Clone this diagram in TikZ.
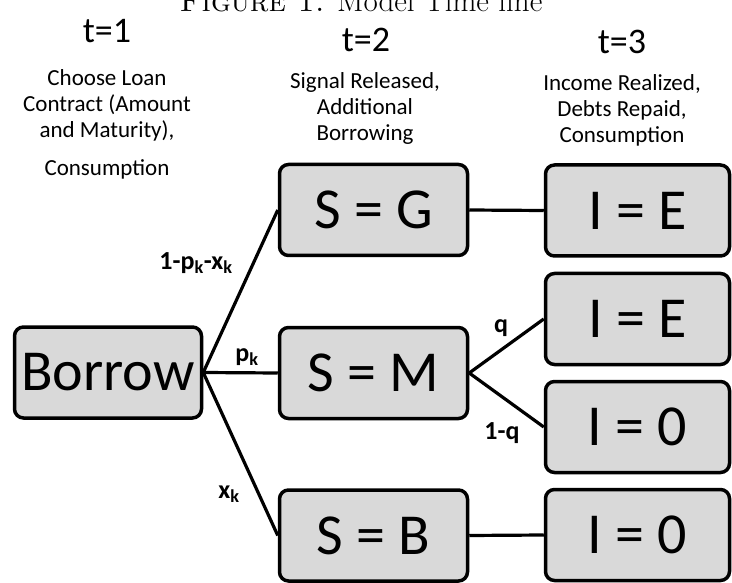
\documentclass[tikz,border=0pt]{standalone}
\usepackage{fontspec}
\newfontfamily\calfont{Carlito}
\definecolor{boxgray}{HTML}{D9D9D9}
\begin{document}
\begin{tikzpicture}[x=1pt,y=1pt,
  box/.style={draw=black, line width=3.5pt, fill=boxgray, rounded corners=9pt, inner sep=0pt, minimum height=91pt, font=\calfont\fontsize{58}{60}\selectfont},
  conn/.style={line width=3.2pt},
  prob/.style={font=\calfont\bfseries\fontsize{26}{28}\selectfont, inner sep=0pt},
  head/.style={font=\calfont\fontsize{36}{38}\selectfont, inner sep=0pt},
  desc/.style={font=\calfont\fontsize{23}{26}\selectfont, align=center, inner sep=0pt}]
\useasboundingbox (0,0) rectangle (732,-583);
% title (clipped at top)
\node[anchor=base, inner sep=0pt, font=\fontsize{31}{33}\selectfont] (title) at (361,-12) {\textsc{Figure 1.} Model Time line};
% headers
\node[head] (t1) at (107,-31) {t=1};
\node[head] (t2) at (366,-40) {t=2};
\node[head] (t3) at (622,-42) {t=3};
\node[desc] (d1) at (107,-105) {Choose Loan\\Contract (Amount\\and Maturity),};
\node[desc] (d1b) at (107,-169) {Consumption};
\node[desc] (d2) at (365,-108) {Signal Released,\\Additional\\Borrowing};
\node[desc] (d3) at (622,-110) {Income Realized,\\Debts Repaid,\\Consumption};
% boxes
\node[box, minimum width=187pt] (borrow) at (108,-372.5) {Borrow};
\node[box, minimum width=188pt] (sg) at (373.5,-210) {S = G};
\node[box, minimum width=188pt] (sm) at (373.5,-373) {S = M};
\node[box, minimum width=188pt] (sb) at (373.5,-535.5) {S = B};
\node[box, minimum width=184pt] (ie1) at (637.5,-210.5) {I = E};
\node[box, minimum width=184pt] (ie2) at (637.5,-319) {I = E};
\node[box, minimum width=184pt] (iz2) at (637.5,-427) {I = 0};
\node[box, minimum width=184pt] (iz3) at (637.5,-535) {I = 0};
% connectors
\draw[conn] (borrow.east) -- (sg.west);
\draw[conn] (borrow.east) -- (sm.west);
\draw[conn] (borrow.east) -- (sb.west);
\draw[conn] (sg.east) -- (ie1.west);
\draw[conn] (sm.east) -- (ie2.west);
\draw[conn] (sm.east) -- (iz2.west);
\draw[conn] (sb.east) -- (iz3.west);
% probabilities
\node[prob] (l1) at (196,-263) {1-p\textsubscript{k}-x\textsubscript{k}};
\node[prob] (lp) at (247,-357) {p\textsubscript{k}};
\node[prob] (lx) at (229,-494) {x\textsubscript{k}};
\node[prob] (lq) at (501,-328) {q};
\node[prob] (l1q) at (502,-433) {1-q};
\end{tikzpicture}
\end{document}
